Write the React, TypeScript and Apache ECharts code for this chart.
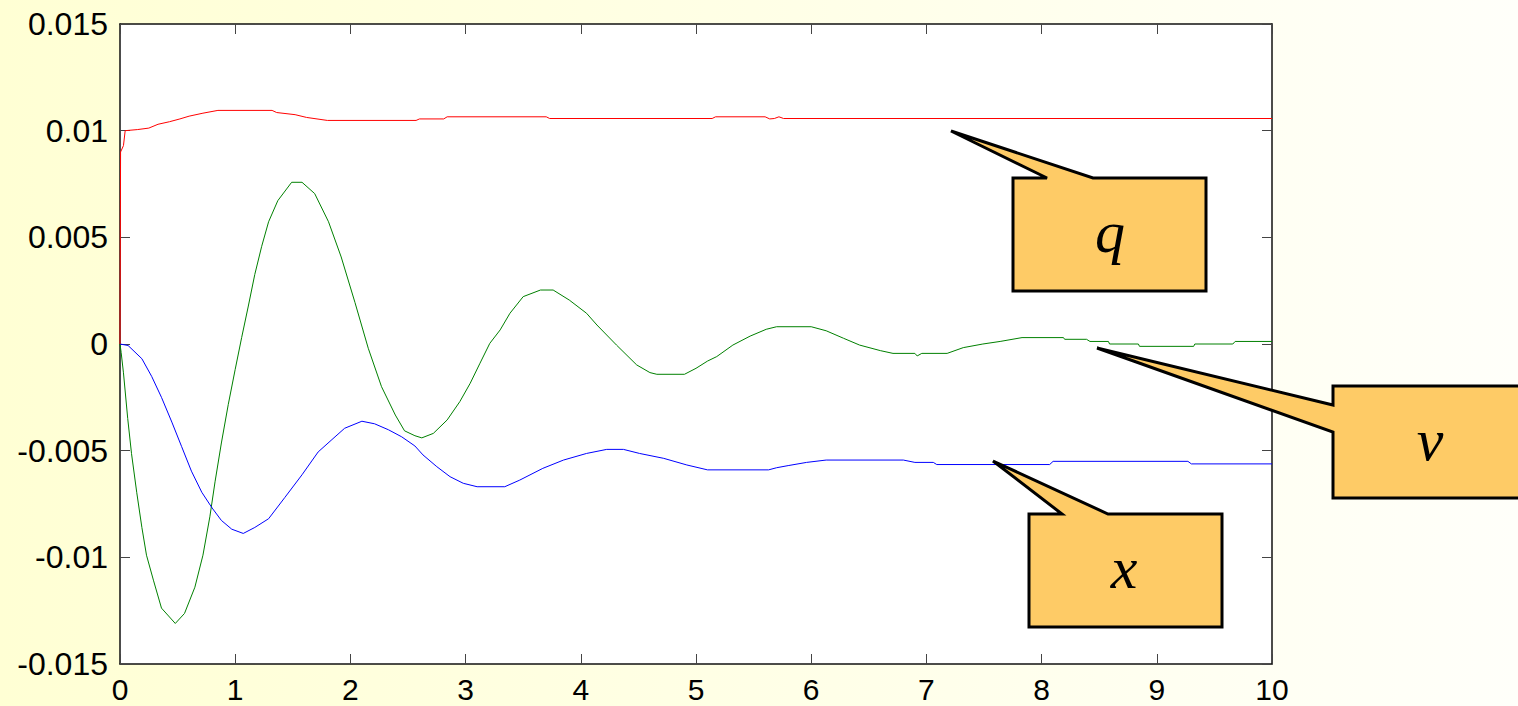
import React, { useEffect, useRef } from "react";
import * as echarts from "echarts";

const xTicks = [0, 10];
const yRange = [-0.015, 0.015];

// q (red)
const qPoints: number[][] = [
  [0, 0], [0.005, 0.009], [0.03, 0.0093], [0.045, 0.01], [0.15, 0.01005], [0.25, 0.01012],
  [0.33, 0.0103], [0.43, 0.01042], [0.52, 0.01055], [0.6, 0.01068], [0.72, 0.01082],
  [0.85, 0.01095], [1.32, 0.01095], [1.36, 0.01085], [1.52, 0.01075], [1.62, 0.01062],
  [1.8, 0.01048], [2.57, 0.01048], [2.6, 0.01055], [2.81, 0.01055], [2.84, 0.01065],
  [3.7, 0.01065], [3.73, 0.01057], [5.14, 0.01057], [5.17, 0.01065], [5.6, 0.01065],
  [5.64, 0.01055], [5.68, 0.01057], [5.72, 0.01065], [5.76, 0.01057], [10, 0.01057],
];

// v (green)
const vPoints: number[][] = [
  [0, 0], [0.01, -0.0004], [0.03, -0.00135], [0.067, -0.00349], [0.1, -0.00514],
  [0.145, -0.00695], [0.19, -0.0086], [0.23, -0.0099], [0.29, -0.01107], [0.36, -0.01238],
  [0.48, -0.0131], [0.56, -0.01263], [0.65, -0.0114], [0.72, -0.0099], [0.78, -0.0081],
  [0.825, -0.00646], [0.88, -0.00464], [0.94, -0.00283], [1.0, -0.00119], [1.056, 0.0003],
  [1.114, 0.00178], [1.17, 0.00326], [1.23, 0.00458], [1.29, 0.00573], [1.37, 0.00672],
  [1.49, 0.00758], [1.58, 0.00758], [1.69, 0.00705], [1.81, 0.00573], [1.92, 0.00408],
  [2.04, 0.00194], [2.155, -0.0002], [2.27, -0.002], [2.39, -0.00333], [2.47, -0.00407],
  [2.56, -0.0043], [2.62, -0.0044], [2.72, -0.00419], [2.84, -0.00356], [2.95, -0.0027],
  [3.04, -0.00184], [3.125, -0.0009], [3.21, 0.00003], [3.3, 0.00066], [3.385, 0.00144],
  [3.5, 0.00222], [3.65, 0.00253], [3.76, 0.00253], [3.9, 0.00206], [4.05, 0.00144],
  [4.14, 0.00089], [4.31, -0.00005], [4.485, -0.00098], [4.6, -0.00134], [4.66, -0.00142],
  [4.9, -0.00142], [5.0, -0.00114], [5.1, -0.0008], [5.18, -0.00059], [5.32, -0.00005],
  [5.47, 0.00037], [5.61, 0.00069], [5.7, 0.00081], [6.0, 0.00081], [6.13, 0.00062],
  [6.28, 0.00027], [6.42, -0.00005], [6.6, -0.00031], [6.71, -0.00044], [6.9, -0.00044],
  [6.92, -0.00056], [6.96, -0.00044], [7.18, -0.00044], [7.32, -0.00017], [7.49, 0],
  [7.64, 0.00012], [7.83, 0.0003], [8.19, 0.0003], [8.2, 0.00022], [8.39, 0.00022],
  [8.42, 0.00012], [8.58, 0.00012], [8.59, 0], [8.84, 0], [8.85, -0.00011], [9.32, -0.00011],
  [9.33, 0], [9.66, 0], [9.68, 0.00012], [10, 0.00012],
];

// x (blue)
const xPoints: number[][] = [
  [0, 0], [0.07, -0.00007], [0.19, -0.00069], [0.275, -0.00152], [0.36, -0.0025],
  [0.45, -0.00366], [0.535, -0.00481], [0.62, -0.00596], [0.71, -0.00695], [0.8, -0.00769],
  [0.88, -0.00827], [0.97, -0.00868], [1.07, -0.00888], [1.17, -0.0086], [1.29, -0.00819],
  [1.43, -0.0072], [1.58, -0.00613], [1.72, -0.00506], [1.84, -0.00448], [1.95, -0.00395],
  [2.1, -0.00362], [2.21, -0.00374], [2.33, -0.00402], [2.445, -0.00435], [2.56, -0.00478],
  [2.63, -0.0052], [2.75, -0.00575], [2.865, -0.00622], [2.98, -0.00653], [3.1, -0.00669],
  [3.34, -0.00669], [3.47, -0.00638], [3.67, -0.00583], [3.85, -0.00544], [4.05, -0.00513],
  [4.225, -0.00494], [4.37, -0.00494], [4.51, -0.00513], [4.72, -0.00536], [4.92, -0.00567],
  [5.1, -0.0059], [5.63, -0.0059], [5.7, -0.0058], [5.8, -0.0057], [5.96, -0.00555],
  [6.13, -0.00544], [6.8, -0.00544], [6.9, -0.00555], [7.06, -0.00555], [7.09, -0.00565],
  [8.07, -0.00565], [8.1, -0.0055], [9.27, -0.0055], [9.3, -0.00562], [10, -0.00562],
];

const calloutLabels = ["q", "v", "x"];

const FILL = "#FECB66";

export default function App() {
  const ref = useRef<HTMLDivElement>(null);

  useEffect(() => {
    if (!ref.current) return;
    const chart = echarts.init(ref.current, null, { renderer: "svg" });
    const axisLine = { show: true, onZero: false, lineStyle: { color: "#111", width: 1.5 } };
    const tick = { show: true, inside: true, length: 10, lineStyle: { color: "#444", width: 1 } };
    const labelFont = { color: "#000", fontFamily: "Liberation Sans, Arial, sans-serif" };

    const callout = (pts: number[][], text: string, tx: number, ty: number) => [
      {
        type: "polygon",
        shape: { points: pts },
        style: { fill: FILL, stroke: "#000", lineWidth: 3, lineJoin: "miter" },
        z: 100,
      },
      {
        type: "text",
        x: tx,
        y: ty,
        style: {
          text,
          fill: "#000",
          fontStyle: "italic",
          fontWeight: "normal",
          fontSize: 60,
          fontFamily: "Liberation Serif, Times New Roman, serif",
          textAlign: "center",
          textVerticalAlign: "middle",
        },
        z: 101,
      },
    ];

    chart.setOption({
      animation: false,
      backgroundColor: "transparent",
      grid: {
        left: 120,
        top: 24,
        right: 246,
        bottom: 42,
        show: true,
        backgroundColor: "#fff",
        borderWidth: 0,
      },
      xAxis: [
        {
          type: "value",
          min: xTicks[0],
          max: xTicks[1],
          interval: 1,
          position: "bottom",
          axisLine,
          axisTick: tick,
          splitLine: { show: false },
          axisLabel: { ...labelFont, fontSize: 30, margin: 10 },
        },
        {
          type: "value",
          min: xTicks[0],
          max: xTicks[1],
          interval: 1,
          position: "top",
          axisLine,
          axisTick: tick,
          splitLine: { show: false },
          axisLabel: { show: false },
        },
      ],
      yAxis: [
        {
          type: "value",
          min: yRange[0],
          max: yRange[1],
          interval: 0.005,
          position: "left",
          axisLine,
          axisTick: tick,
          splitLine: { show: false },
          axisLabel: {
            ...labelFont,
            fontSize: 32,
            margin: 12,
            formatter: (val: number) => String(parseFloat(val.toFixed(4))),
          },
        },
        {
          type: "value",
          min: yRange[0],
          max: yRange[1],
          interval: 0.005,
          position: "right",
          axisLine,
          axisTick: tick,
          splitLine: { show: false },
          axisLabel: { show: false },
        },
      ],
      series: [
        {
          name: "q",
          type: "line",
          data: qPoints,
          showSymbol: false,
          lineStyle: { color: "#FF0000", width: 1 },
          z: 3,
        },
        {
          name: "v",
          type: "line",
          data: vPoints,
          showSymbol: false,
          lineStyle: { color: "#008000", width: 1 },
          z: 2,
        },
        {
          name: "x",
          type: "line",
          data: xPoints,
          showSymbol: false,
          lineStyle: { color: "#0000FF", width: 1 },
          z: 2,
        },
      ],
      graphic: [
        ...callout(
          [[1013, 178], [1047, 178], [951, 131], [1093, 178], [1206, 178], [1206, 291], [1013, 291]],
          calloutLabels[0],
          1110,
          232
        ),
        ...callout(
          [[1333, 386], [1527, 386], [1527, 498], [1333, 498], [1333, 432], [1097, 348], [1333, 405]],
          calloutLabels[1],
          1430,
          440
        ),
        ...callout(
          [[1029, 514], [1062, 514], [993, 461], [1108, 514], [1222, 514], [1222, 627], [1029, 627]],
          calloutLabels[2],
          1124,
          568
        ),
      ],
    });
    return () => chart.dispose();
  }, []);

  return (
    <div
      style={{
        position: "absolute",
        left: 0,
        top: 0,
        width: 1518,
        height: 706,
        background: "linear-gradient(90deg, #FFFFD4 0%, #FFFFE8 55%, #FFFFFA 100%)",
        overflow: "hidden",
      }}
    >
      <div ref={ref} style={{ width: 1518, height: 706 }} />
    </div>
  );
}
